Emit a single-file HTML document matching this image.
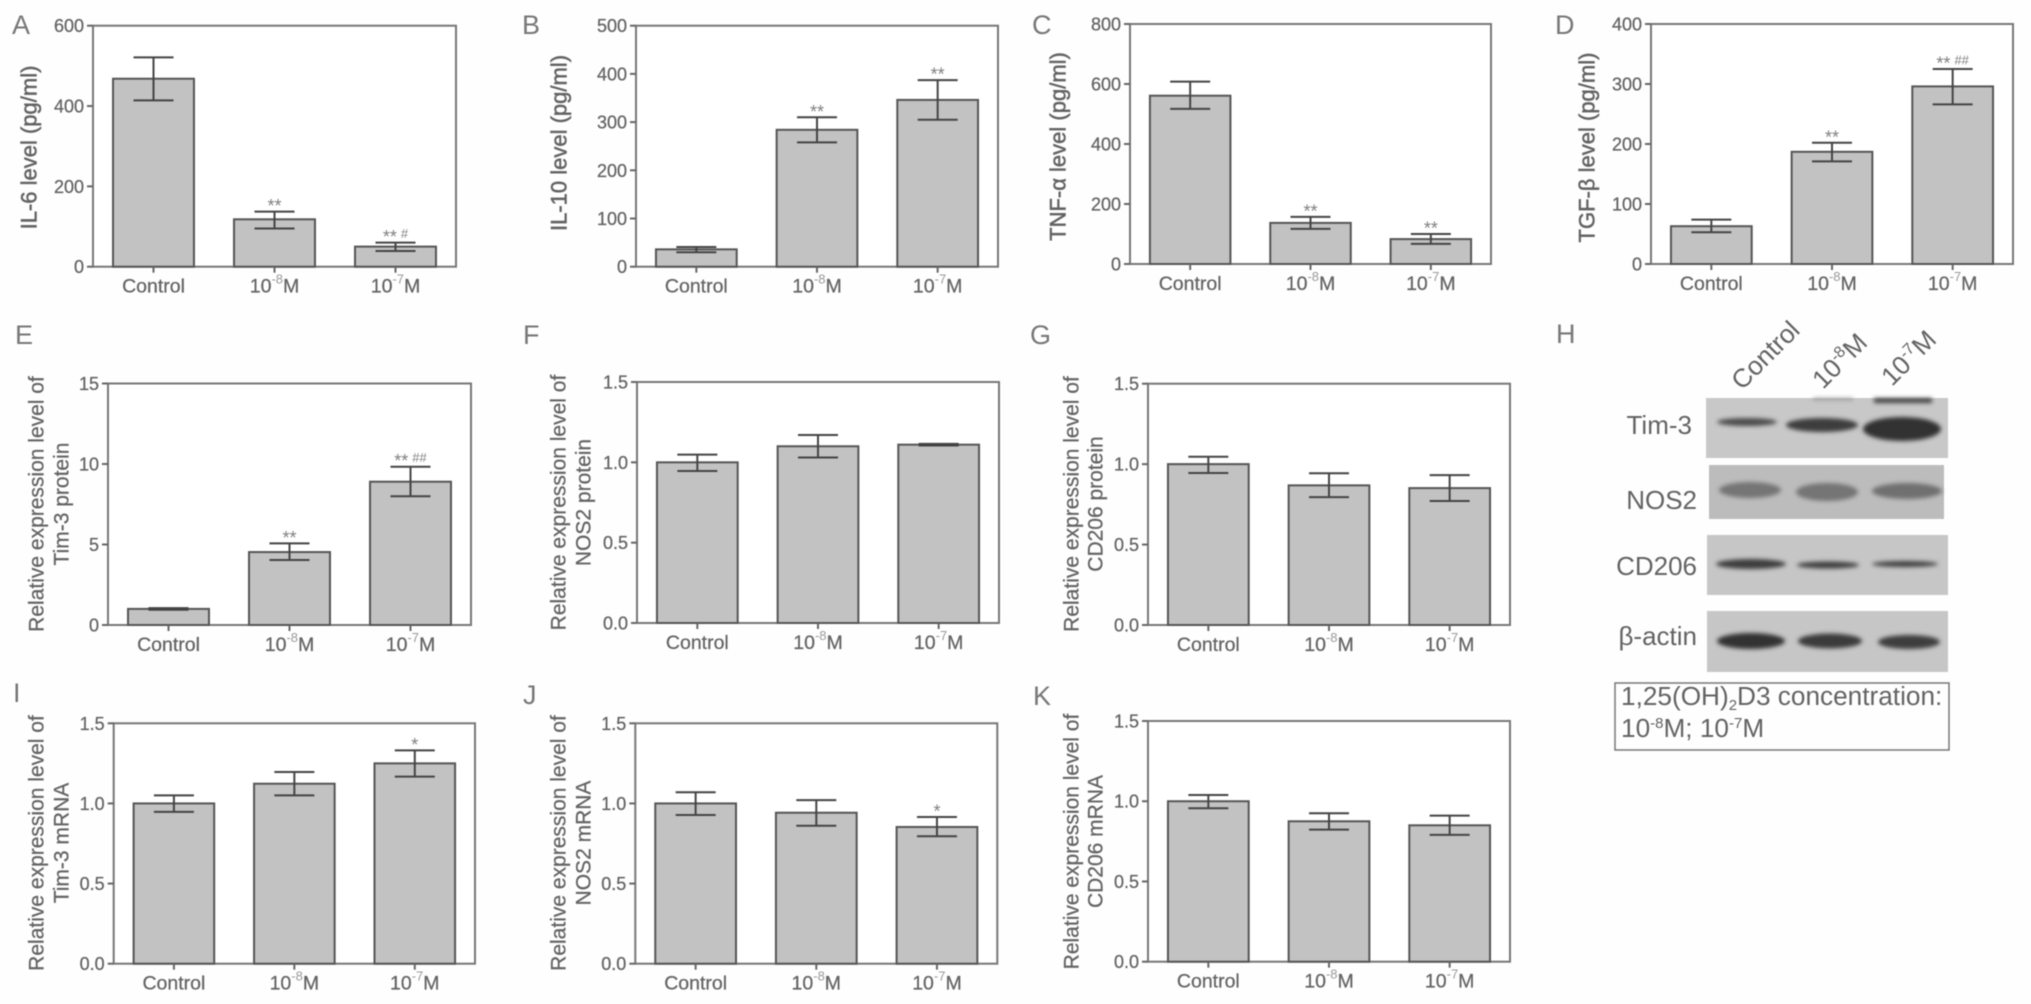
<!DOCTYPE html>
<html lang="en">
<head>
<meta charset="utf-8">
<title>Cytokine and marker expression panels</title>
<style>
html,body{margin:0;padding:0;background:#fefefe;width:2031px;height:1004px;overflow:hidden}
#figure{display:block;filter:blur(0.65px);font-family:"Liberation Sans",Arial,sans-serif}
text{fill:#636363;stroke:#636363;stroke-width:0.25px}
</style>
</head>
<body>
<svg id="figure" xmlns="http://www.w3.org/2000/svg" width="2031" height="1004" viewBox="0 0 2031 1004">
<defs>
<filter id="band-blur" x="-30%" y="-80%" width="160%" height="260%"><feGaussianBlur stdDeviation="2.2"/></filter>
</defs>
<g id="charts"></g>

<g>
  <text x="1556" y="343" font-size="27" style="fill:#777;stroke:none">H</text>

  <text transform="rotate(-45 1742 391)" x="1742" y="391" font-size="26" style="stroke:none">Control</text>
  <text transform="rotate(-45 1823 390)" x="1823" y="390" font-size="26" style="stroke:none">10<tspan font-size="16" dy="-10">-8</tspan><tspan dy="10">M</tspan></text>
  <text transform="rotate(-45 1892 387)" x="1892" y="387" font-size="26" style="stroke:none">10<tspan font-size="16" dy="-10">-7</tspan><tspan dy="10">M</tspan></text>

  <text x="1692" y="434" font-size="26" text-anchor="end" style="stroke:none">Tim-3</text>
  <text x="1697" y="509" font-size="26" text-anchor="end" style="stroke:none">NOS2</text>
  <text x="1697" y="575" font-size="26" text-anchor="end" style="stroke:none">CD206</text>
  <text x="1697" y="645" font-size="26" text-anchor="end" style="stroke:none">β-actin</text>

  <rect x="1706" y="398" width="242" height="60" fill="#c8c8c8"/>
  <rect x="1709" y="465" width="235" height="54" fill="#bcbcbc"/>
  <rect x="1707" y="535" width="241" height="60" fill="#c6c6c6"/>
  <rect x="1707" y="611" width="241" height="61" fill="#c6c6c6"/>

  <g filter="url(#band-blur)">
    <ellipse cx="1747" cy="422" rx="30" ry="4" fill="#4c4c4c"/>
    <ellipse cx="1822" cy="425" rx="36" ry="7" fill="#3c3c3c"/>
    <ellipse cx="1902" cy="429" rx="39" ry="12" fill="#303030"/>
    <rect x="1874" y="398" width="58" height="5" fill="#444"/>
    <rect x="1813" y="398" width="40" height="2" fill="#888"/>

    <ellipse cx="1750" cy="490" rx="31" ry="8" fill="#757575"/>
    <ellipse cx="1827" cy="492" rx="31" ry="9" fill="#757575"/>
    <ellipse cx="1907" cy="491" rx="35" ry="8" fill="#707070"/>

    <ellipse cx="1751" cy="564" rx="35" ry="5" fill="#3c3c3c"/>
    <ellipse cx="1828" cy="565" rx="31" ry="3.5" fill="#3c3c3c"/>
    <ellipse cx="1905" cy="564" rx="33" ry="3" fill="#3c3c3c"/>

    <ellipse cx="1751" cy="641" rx="34" ry="8" fill="#303030"/>
    <ellipse cx="1830" cy="641" rx="32" ry="7.5" fill="#3a3a3a"/>
    <ellipse cx="1909" cy="642" rx="31" ry="7" fill="#3e3e3e"/>
  </g>

  <rect x="1615" y="683" width="334" height="67" fill="none" stroke="#777" stroke-width="1.5"/>
  <text x="1621" y="705" font-size="26.2" style="stroke:none">1,25(OH)<tspan font-size="15" dy="5">2</tspan><tspan dy="-5">D3 concentration:</tspan></text>
  <text x="1621" y="737" font-size="26.2" style="stroke:none">10<tspan font-size="15" dy="-9">-8</tspan><tspan dy="9">M; 10</tspan><tspan font-size="15" dy="-9">-7</tspan><tspan dy="9">M</tspan></text>
</g>
</svg>

<script>
const catBase = ['Control', '10', '10'];
const catExp = ['', '-8', '-7'];
const catUnit = ['', 'M', 'M'];

const il6Ticks = ['0', '200', '400', '600'];
const il6Values = [468, 118, 50];
const il6Low = [414, 95, 39];
const il6High = [521, 137, 60];
const il6Sig = ['', '**', '** #'];

const il10Ticks = ['0', '100', '200', '300', '400', '500'];
const il10Values = [36, 284, 346];
const il10Low = [30, 258, 305];
const il10High = [41, 310, 387];
const il10Sig = ['', '**', '**'];

const tnfTicks = ['0', '200', '400', '600', '800'];
const tnfValues = [561, 137, 83];
const tnfLow = [517, 117, 67];
const tnfHigh = [608, 157, 100];
const tnfSig = ['', '**', '**'];

const tgfTicks = ['0', '100', '200', '300', '400'];
const tgfValues = [63, 187, 296];
const tgfLow = [53, 171, 266];
const tgfHigh = [74, 202, 325];
const tgfSig = ['', '**', '** ##'];

const tim3ProteinTicks = ['0', '5', '10', '15'];
const tim3ProteinValues = [1.0, 4.53, 8.9];
const tim3ProteinLow = [0.95, 4.04, 8.0];
const tim3ProteinHigh = [1.05, 5.07, 9.83];
const tim3ProteinSig = ['', '**', '** ##'];

const ratioTicks = ['0.0', '0.5', '1.0', '1.5'];

const nos2ProteinValues = [1.0, 1.10, 1.11];
const nos2ProteinLow = [0.946, 1.03, 1.105];
const nos2ProteinHigh = [1.048, 1.17, 1.115];
const nos2ProteinSig = ['', '', ''];

const cd206ProteinValues = [1.0, 0.868, 0.851];
const cd206ProteinLow = [0.945, 0.795, 0.771];
const cd206ProteinHigh = [1.046, 0.943, 0.932];
const cd206ProteinSig = ['', '', ''];

const tim3MrnaValues = [1.0, 1.123, 1.25];
const tim3MrnaLow = [0.947, 1.05, 1.167];
const tim3MrnaHigh = [1.05, 1.196, 1.331];
const tim3MrnaSig = ['', '', '*'];

const nos2MrnaValues = [1.0, 0.942, 0.853];
const nos2MrnaLow = [0.928, 0.861, 0.795];
const nos2MrnaHigh = [1.07, 1.021, 0.915];
const nos2MrnaSig = ['', '', '*'];

const cd206MrnaValues = [1.0, 0.875, 0.85];
const cd206MrnaLow = [0.956, 0.823, 0.79];
const cd206MrnaHigh = [1.039, 0.925, 0.91];
const cd206MrnaSig = ['', '', ''];

const SVG_NS = 'http://www.w3.org/2000/svg';

function mk(parent, tag, attrs, content) {
  const node = document.createElementNS(SVG_NS, tag);
  for (const key in attrs) node.setAttribute(key, attrs[key]);
  if (content !== undefined) node.textContent = content;
  parent.appendChild(node);
  return node;
}

function drawPanel(p) {
  const root = document.getElementById('charts');
  const g = mk(root, 'g', {});
  
  

  const ticks = p.ticks;
  const domainMax = parseFloat(ticks[ticks.length - 1]);
  const yScale = function (v) { return p.bottom - (v / domainMax) * (p.bottom - p.top); };
  const plotWidth = p.right - p.left;
  const xScale = function (i) { return p.left + plotWidth * (i + 0.5) / catBase.length; };
  const barWidth = plotWidth * 0.223;
  const capHalf = 20;

  const letter = mk(g, 'text', { x: p.lx, y: p.ly, 'font-size': 27, style: 'fill:#777;stroke:none' }, p.letter);
  
  

  p.titles.forEach(function (line, k) {
    const tx = p.tx[k];
    const title = mk(g, 'text', {
      x: tx, y: p.ty,
      transform: 'rotate(-90 ' + tx + ' ' + p.ty + ')',
      'text-anchor': 'middle',
      'dominant-baseline': 'central',
      'font-size': p.titleSize,
      style: 'stroke-width:' + p.titleStroke + 'px'
    }, line);
    
    
  });

  const frame = mk(g, 'rect', {
    x: p.left, y: p.top, width: plotWidth, height: p.bottom - p.top,
    fill: '#ffffff', stroke: '#777', 'stroke-width': 2
  });
  
  

  ticks.forEach(function (label) {
    const y = yScale(parseFloat(label));
    const mark = mk(g, 'line', { x1: p.left - 6, x2: p.left, y1: y, y2: y, stroke: '#666', 'stroke-width': 2 });
    
    
    const text = mk(g, 'text', {
      x: p.left - 9, y: y + 6.5, 'text-anchor': 'end', 'font-size': 18
    }, label);
    
    
  });

  catBase.forEach(function (base, i) {
    const cx = xScale(i);

    const bar = mk(g, 'rect', {
      x: cx - barWidth / 2, y: yScale(p.values[i]),
      width: barWidth, height: p.bottom - yScale(p.values[i]),
      fill: '#c2c2c2', stroke: '#555', 'stroke-width': 2
    });
    
    

    const yLow = yScale(p.low[i]);
    const yHigh = yScale(p.high[i]);
    const stem = mk(g, 'line', { x1: cx, x2: cx, y1: yLow, y2: yHigh, stroke: '#444', 'stroke-width': 2 });
    
    
    const capHigh = mk(g, 'line', { x1: cx - capHalf, x2: cx + capHalf, y1: yHigh, y2: yHigh, stroke: '#444', 'stroke-width': 2 });
    
    
    const capLow = mk(g, 'line', { x1: cx - capHalf, x2: cx + capHalf, y1: yLow, y2: yLow, stroke: '#444', 'stroke-width': 2 });
    
    

    const tick = mk(g, 'line', { x1: cx, x2: cx, y1: p.bottom, y2: p.bottom + 6, stroke: '#666', 'stroke-width': 2 });
    
    

    const label = mk(g, 'text', { x: cx, y: p.bottom + 26, 'text-anchor': 'middle', 'font-size': 19.5 });
    
    
    mk(label, 'tspan', {}, base);
    if (catExp[i]) {
      mk(label, 'tspan', { dy: -9, 'font-size': 13, style: 'fill:#999;stroke:none' }, catExp[i]);
      mk(label, 'tspan', { dy: 9 }, catUnit[i]);
    }

    const sig = p.sig[i];
    if (sig) {
      const stars = sig.replace(/[# ]/g, '');
      const hashes = sig.replace(/[* ]/g, '');
      const marker = mk(g, 'text', {
        x: cx, y: yHigh + 0.5, 'text-anchor': 'middle', 'font-size': 18, style: 'fill:#808080;stroke:none'
      });
      
      
      mk(marker, 'tspan', {}, stars);
      if (hashes) {
        mk(marker, 'tspan', { dx: 4, dy: -5, 'font-size': 13 }, hashes);
      }
    }
  });
}

drawPanel({ id: 'a-il-6', letter: 'A', lx: 12, ly: 34, left: 93, right: 456, top: 25.7, bottom: 266.7,
  ticks: il6Ticks, values: il6Values, low: il6Low, high: il6High, sig: il6Sig,
  titles: ['IL-6 level (pg/ml)'], tx: [29], ty: 147.5, titleSize: 22, titleStroke: 0.5 });

drawPanel({ id: 'b-il-10', letter: 'B', lx: 522, ly: 34, left: 636, right: 998, top: 25.7, bottom: 266.7,
  ticks: il10Ticks, values: il10Values, low: il10Low, high: il10High, sig: il10Sig,
  titles: ['IL-10 level (pg/ml)'], tx: [559], ty: 143, titleSize: 22, titleStroke: 0.5 });

drawPanel({ id: 'c-tnf-alpha', letter: 'C', lx: 1032, ly: 34, left: 1130, right: 1491, top: 24, bottom: 264,
  ticks: tnfTicks, values: tnfValues, low: tnfLow, high: tnfHigh, sig: tnfSig,
  titles: ['TNF-α level (pg/ml)'], tx: [1058], ty: 146.5, titleSize: 22, titleStroke: 0.5 });

drawPanel({ id: 'd-tgf-beta', letter: 'D', lx: 1555, ly: 34, left: 1651, right: 2013, top: 24, bottom: 264,
  ticks: tgfTicks, values: tgfValues, low: tgfLow, high: tgfHigh, sig: tgfSig,
  titles: ['TGF-β level (pg/ml)'], tx: [1587], ty: 147.5, titleSize: 22, titleStroke: 0.5 });

drawPanel({ id: 'e-tim-3-protein', letter: 'E', lx: 15, ly: 344, left: 108, right: 471, top: 383.5, bottom: 625,
  ticks: tim3ProteinTicks, values: tim3ProteinValues, low: tim3ProteinLow, high: tim3ProteinHigh, sig: tim3ProteinSig,
  titles: ['Relative expression level of', 'Tim-3 protein'], tx: [37, 62], ty: 504, titleSize: 21, titleStroke: 0.25 });

drawPanel({ id: 'f-nos2-protein', letter: 'F', lx: 523, ly: 344, left: 637, right: 999, top: 382, bottom: 623,
  ticks: ratioTicks, values: nos2ProteinValues, low: nos2ProteinLow, high: nos2ProteinHigh, sig: nos2ProteinSig,
  titles: ['Relative expression level of', 'NOS2 protein'], tx: [559, 584], ty: 502.5, titleSize: 21, titleStroke: 0.25 });

drawPanel({ id: 'g-cd206-protein', letter: 'G', lx: 1030, ly: 344, left: 1148, right: 1510, top: 383.7, bottom: 625,
  ticks: ratioTicks, values: cd206ProteinValues, low: cd206ProteinLow, high: cd206ProteinHigh, sig: cd206ProteinSig,
  titles: ['Relative expression level of', 'CD206 protein'], tx: [1072, 1096], ty: 504, titleSize: 21, titleStroke: 0.25 });

drawPanel({ id: 'i-tim-3-mrna', letter: 'I', lx: 13, ly: 702, left: 113.7, right: 475, top: 723.3, bottom: 963.7,
  ticks: ratioTicks, values: tim3MrnaValues, low: tim3MrnaLow, high: tim3MrnaHigh, sig: tim3MrnaSig,
  titles: ['Relative expression level of', 'Tim-3 mRNA'], tx: [37, 62], ty: 843, titleSize: 21, titleStroke: 0.25 });

drawPanel({ id: 'j-nos2-mrna', letter: 'J', lx: 523, ly: 704, left: 635.3, right: 997.3, top: 723.3, bottom: 963.7,
  ticks: ratioTicks, values: nos2MrnaValues, low: nos2MrnaLow, high: nos2MrnaHigh, sig: nos2MrnaSig,
  titles: ['Relative expression level of', 'NOS2 mRNA'], tx: [559, 584], ty: 843, titleSize: 21, titleStroke: 0.25 });

drawPanel({ id: 'k-cd206-mrna', letter: 'K', lx: 1033, ly: 705, left: 1148, right: 1510, top: 721, bottom: 961.7,
  ticks: ratioTicks, values: cd206MrnaValues, low: cd206MrnaLow, high: cd206MrnaHigh, sig: cd206MrnaSig,
  titles: ['Relative expression level of', 'CD206 mRNA'], tx: [1072, 1096], ty: 841.5, titleSize: 21, titleStroke: 0.25 });
</script>
</body>
</html>
